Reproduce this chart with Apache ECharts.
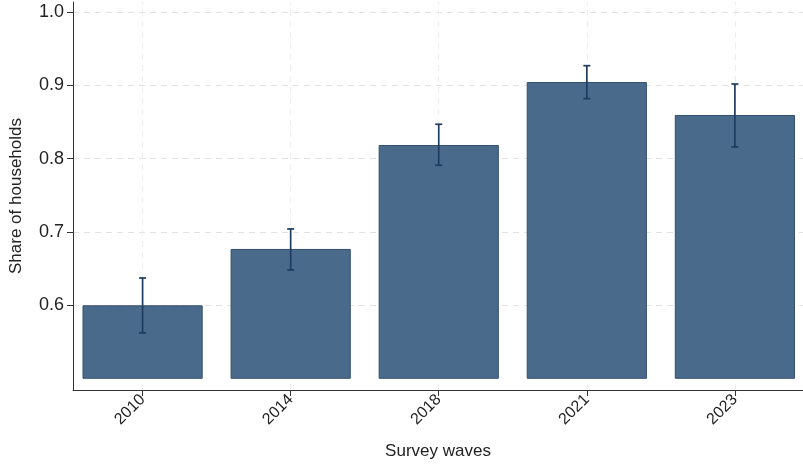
<!DOCTYPE html>
<html>
<head>
<meta charset="utf-8">
<script src="https://cdn.jsdelivr.net/npm/echarts@6/dist/echarts.min.js"></script>
<style>
  html, body { margin: 0; padding: 0; background: #fff; }
  #chart { width: 803px; height: 465px; }
</style>
</head>
<body>
<div id="chart"></div>
<script>
// Survey waves and the estimated share of households, with confidence bounds
var waves = ['2010', '2014', '2018', '2021', '2023'];
var share = [0.599, 0.676, 0.818, 0.904, 0.859];
var lower = [0.562, 0.648, 0.791, 0.882, 0.816];
var upper = [0.637, 0.704, 0.847, 0.927, 0.902];
var yTicks = [0.6, 0.7, 0.8, 0.9, 1.0];
var barBase = 0.5;

var waveIdx = waves.map(function (w, i) { return i; });

var chart = echarts.init(document.getElementById('chart'), null, { renderer: 'canvas' });

var font = 'Liberation Sans, Arial, Helvetica, sans-serif';
var barFill = '#4a6a8b';
var barEdge = '#34506e';
var whiskerColor = '#1e3c60';

var barData = waves.map(function (w, i) { return [i, share[i]]; });
var errData = waves.map(function (w, i) { return [i, lower[i], upper[i]]; });

function guides(data, color) {
  return {
    type: 'line',
    data: [],
    silent: true,
    z: 0,
    markLine: {
      silent: true,
      z: 0,
      symbol: 'none',
      label: { show: false },
      emphasis: { disabled: true },
      lineStyle: { type: [6, 5], color: color, width: 1 },
      data: data
    }
  };
}

chart.setOption({
  animation: false,
  grid: { left: 72, top: 2, width: 731, height: 390, containLabel: false },
  xAxis: {
    type: 'value',
    min: -0.47,
    max: 4.46,
    name: 'Survey waves',
    nameLocation: 'middle',
    nameGap: 53,
    nameTextStyle: { fontFamily: font, fontSize: 17, color: '#222' },
    axisLine: { show: true, onZero: false, lineStyle: { color: '#333', width: 1 } },
    axisTick: { show: true, customValues: waveIdx, length: 6, lineStyle: { color: '#333' } },
    axisLabel: {
      customValues: waveIdx,
      rotate: 45, margin: 7,
      fontFamily: font, fontSize: 16, color: '#222',
      formatter: function (v) { return waves[Math.round(v)]; }
    },
    splitLine: { show: false }
  },
  yAxis: {
    type: 'value',
    min: 0.484,
    max: 1.014,
    name: 'Share of households',
    nameLocation: 'middle',
    nameGap: 48,
    nameTextStyle: { fontFamily: font, fontSize: 17, color: '#222' },
    axisLine: { show: true, onZero: false, lineStyle: { color: '#333', width: 1 } },
    axisTick: { show: true, length: 6, customValues: yTicks, lineStyle: { color: '#333' } },
    axisLabel: {
      customValues: yTicks,
      margin: 9,
      fontFamily: font, fontSize: 18, color: '#222',
      formatter: function (v) { return v.toFixed(1); }
    },
    splitLine: { show: false }
  },
  series: [
    // dashed guides: horizontal at the y ticks, fainter vertical at each wave
    guides(yTicks.map(function (v) { return { yAxis: v }; }), '#e2e2e2'),
    guides(waveIdx.map(function (i) { return { xAxis: i }; }), '#eeeeee'),
    {
      type: 'custom',
      data: barData,
      encode: { x: 0, y: 1 },
      z: 3,
      renderItem: function (params, api) {
        var i = api.value(0);
        var top = api.coord([i, api.value(1)]);
        var base = api.coord([i, barBase]);
        var w = api.size([1, 0])[0] * 0.805;
        return {
          type: 'rect',
          shape: { x: top[0] - w / 2, y: top[1], width: w, height: base[1] - top[1] },
          style: { fill: barFill, stroke: barEdge, lineWidth: 1 }
        };
      }
    },
    {
      type: 'custom',
      data: errData,
      encode: { x: 0, y: [1, 2] },
      z: 4,
      renderItem: function (params, api) {
        var i = api.value(0);
        var lo = api.coord([i, api.value(1)]);
        var hi = api.coord([i, api.value(2)]);
        var cap = 3.5;
        var st = { stroke: whiskerColor, lineWidth: 1.7 };
        return {
          type: 'group',
          children: [
            { type: 'line', shape: { x1: lo[0], y1: lo[1], x2: hi[0], y2: hi[1] }, style: st },
            { type: 'line', shape: { x1: hi[0] - cap, y1: hi[1], x2: hi[0] + cap, y2: hi[1] }, style: st },
            { type: 'line', shape: { x1: lo[0] - cap, y1: lo[1], x2: lo[0] + cap, y2: lo[1] }, style: st }
          ]
        };
      }
    }
  ]
});
</script>
</body>
</html>
